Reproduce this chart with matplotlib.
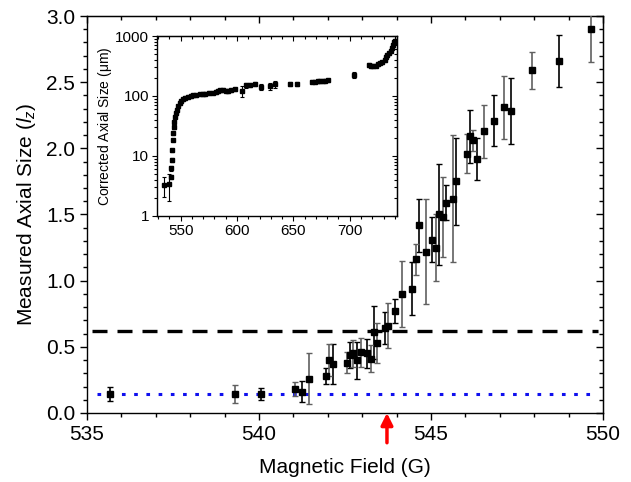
import numpy as np
import matplotlib
matplotlib.use("Agg")
import matplotlib.pyplot as plt
from matplotlib.ticker import MultipleLocator, FormatStrFormatter, LogLocator, NullFormatter

plt.rcParams['font.family'] = ['Liberation Sans', 'DejaVu Sans']
plt.rcParams['mathtext.fontset'] = 'custom'
plt.rcParams['mathtext.rm'] = 'Liberation Sans'
plt.rcParams['mathtext.it'] = 'Liberation Sans:italic'

# main panel: measured axial size vs field
field = [535.67, 539.30, 540.06, 541.05, 541.25, 541.45, 541.95, 542.04, 542.15,
         542.56, 542.65, 542.73, 542.85, 542.96, 543.14, 543.26, 543.35, 543.44,
         543.66, 543.75, 543.95, 544.16, 544.45, 544.55, 544.65, 544.85, 545.03,
         545.15, 545.23, 545.35, 545.44, 545.64, 545.73, 546.05, 546.13, 546.22,
         546.34, 546.54, 546.83, 547.12, 547.33, 547.94, 548.72, 549.65]
size = [0.145, 0.145, 0.145, 0.18, 0.16, 0.26, 0.28, 0.40, 0.37,
        0.38, 0.44, 0.45, 0.40, 0.46, 0.45, 0.41, 0.61, 0.53,
        0.64, 0.66, 0.77, 0.90, 0.94, 1.16, 1.42, 1.22, 1.31,
        1.25, 1.50, 1.48, 1.59, 1.62, 1.75, 1.96, 2.09, 2.06,
        1.92, 2.13, 2.21, 2.31, 2.28, 2.59, 2.66, 2.90]
size_err = [0.055, 0.07, 0.045, 0.055, 0.08, 0.19, 0.06, 0.12, 0.15,
            0.08, 0.10, 0.10, 0.14, 0.11, 0.11, 0.10, 0.20, 0.15,
            0.12, 0.17, 0.09, 0.25, 0.20, 0.12, 0.20, 0.40, 0.17,
            0.25, 0.38, 0.30, 0.13, 0.48, 0.33, 0.15, 0.20, 0.08,
            0.16, 0.20, 0.19, 0.24, 0.25, 0.14, 0.20, 0.25]

threshold = 0.62
floor = 0.145
arrow_field = 543.72

# inset: corrected axial size (um), log scale
field_in = [535.2, 540.0, 541.0, 541.5, 542.0, 542.5, 543.0, 543.5, 544.0, 544.5,
            545.0, 545.7, 546.4, 547.5, 549.0, 550.5, 552.0, 554.0, 556.7, 559.0,
            561.0, 564.0, 567.0, 569.7, 572.0, 575.0, 578.6, 581.0, 583.0, 585.0,
            587.7, 590.0, 592.0, 595.0, 598.0, 604.0, 608.0, 611.8, 615.7, 621.7,
            629.0, 634.0, 646.7, 653.0, 666.8, 669.0, 671.7, 674.0, 676.0, 678.0,
            680.6, 703.6, 717.5, 719.0, 721.0, 723.0, 724.8, 727.0, 729.0, 731.0,
            732.0, 733.5, 735.0, 736.5, 737.6, 738.6, 739.6, 740.5]
size_in = [3.3, 3.4, 4.5, 6.2, 8.6, 12.5, 18.5, 24, 30, 37,
           45, 52, 58, 67, 76, 83, 89, 93, 97, 100,
           104, 104, 106, 108, 110, 112, 114, 117, 121, 124,
           126, 123, 119, 124, 129, 120, 152, 152, 158, 143,
           146, 157, 158, 158, 172, 174, 176, 177, 178, 180,
           183, 224, 330, 318, 316, 322, 336, 350, 368, 400,
           452, 480, 513, 560, 622, 700, 780, 820]
size_in_err = [1.2, 1.65, 0.4, 0.5, 0.6, 0.8, 1.0, 1.3, 1.6, 2,
               2.5, 3, 3, 4, 4, 5, 5, 6, 6, 6,
               6, 6, 6, 7, 7, 7, 7, 8, 8, 8,
               8, 8, 8, 8, 8, 25, 15, 10, 10, 15,
               20, 22, 12, 10, 10, 10, 10, 10, 10, 10,
               10, 25, 30, 20, 15, 15, 15, 15, 20, 25,
               30, 30, 30, 35, 40, 45, 50, 60]

fig = plt.figure(figsize=(6.31, 4.82), dpi=100)
ax = fig.add_axes([0.1379, 0.1432, 0.8177, 0.8236])

# alternate black / grey error bars like the original
for start, ec in ((0, 'black'), (1, '#606060')):
    ax.errorbar(field[start::2], size[start::2], yerr=size_err[start::2],
                fmt='s', color='black', ms=5, ecolor=ec, elinewidth=1.2,
                capsize=2.2, capthick=1.0, zorder=3)

ax.axhline(threshold, color='black', lw=2.4, dashes=(4.5, 3), zorder=2,
           xmin=0.01, xmax=0.99)
ax.axhline(floor, color='#1010ee', lw=2.2, dashes=(1.2, 2.8), zorder=2,
           xmin=0.02, xmax=0.99)

ax.annotate('', xy=(arrow_field, 0.0), xycoords=('data', 'axes fraction'),
            xytext=(arrow_field, -0.075), textcoords=('data', 'axes fraction'),
            arrowprops=dict(arrowstyle='-|>,head_width=0.35,head_length=0.7',
                            color='red', lw=2.5, shrinkA=0, shrinkB=0),
            annotation_clip=False)

ax.set_xlim(535, 550)
ax.set_ylim(0, 3.0)
ax.xaxis.set_major_locator(MultipleLocator(5))
ax.xaxis.set_minor_locator(MultipleLocator(1))
ax.yaxis.set_major_locator(MultipleLocator(0.5))
ax.yaxis.set_minor_locator(MultipleLocator(0.1))
ax.yaxis.set_major_formatter(FormatStrFormatter('%.1f'))
ax.tick_params(which='both', width=1.0, labelsize=15, direction='out')
ax.tick_params(which='major', length=5)
ax.tick_params(which='minor', length=3)
for sp in ax.spines.values():
    sp.set_linewidth(1.0)
ax.set_xlabel('Magnetic Field (G)', fontsize=15, labelpad=10)
ax.set_ylabel(r'Measured Axial Size ($\mathit{l}_z$)', fontsize=15, labelpad=6)

# mirrored ticks on top/right point inward
secx = ax.secondary_xaxis('top')
secx.xaxis.set_major_locator(MultipleLocator(5))
secx.xaxis.set_minor_locator(MultipleLocator(1))
secx.tick_params(which='both', direction='in', labeltop=False, width=1.0)
secx.tick_params(which='major', length=5)
secx.tick_params(which='minor', length=3)
secy = ax.secondary_yaxis('right')
secy.yaxis.set_major_locator(MultipleLocator(0.5))
secy.yaxis.set_minor_locator(MultipleLocator(0.1))
secy.tick_params(which='both', direction='in', labelright=False, width=1.0)
secy.tick_params(which='major', length=5)
secy.tick_params(which='minor', length=3)

# inset
ins = fig.add_axes([0.2488, 0.5519, 0.3804, 0.3734])
ins.errorbar(field_in, size_in, yerr=size_in_err, fmt='s', color='black',
             ms=3, ecolor='black', elinewidth=0.8, capsize=1.5, capthick=0.8)
ins.set_yscale('log')
ins.set_xlim(529, 742)
ins.set_ylim(1, 1000)
ins.xaxis.set_major_locator(MultipleLocator(50))
ins.xaxis.set_minor_locator(MultipleLocator(10))
ins.yaxis.set_major_locator(LogLocator(base=10))
ins.yaxis.set_minor_locator(LogLocator(base=10, subs=np.arange(2, 10)))
ins.yaxis.set_minor_formatter(NullFormatter())
ins.yaxis.set_major_formatter(FormatStrFormatter('%d'))
ins.tick_params(which='both', labelsize=11, width=0.8, direction='out')
ins.tick_params(which='major', length=3.5, pad=2)
ins.tick_params(which='minor', length=2)
for sp in ins.spines.values():
    sp.set_linewidth(1.0)
ins.set_ylabel(r'Corrected Axial Size ($\mathrm{\mu}$m)', fontsize=10, labelpad=1)

isx = ins.secondary_xaxis('top')
isx.xaxis.set_major_locator(MultipleLocator(50))
isx.xaxis.set_minor_locator(MultipleLocator(10))
isx.tick_params(which='both', direction='in', labeltop=False, width=0.8)
isx.tick_params(which='major', length=3.5)
isx.tick_params(which='minor', length=2)
isy = ins.secondary_yaxis('right')
isy.set_yscale('log')
isy.yaxis.set_major_locator(LogLocator(base=10))
isy.yaxis.set_minor_locator(LogLocator(base=10, subs=np.arange(2, 10)))
isy.tick_params(which='both', direction='in', labelright=False, width=0.8)
isy.tick_params(which='major', length=3.5)
isy.tick_params(which='minor', length=2)

fig.savefig('out.png', dpi=100)
